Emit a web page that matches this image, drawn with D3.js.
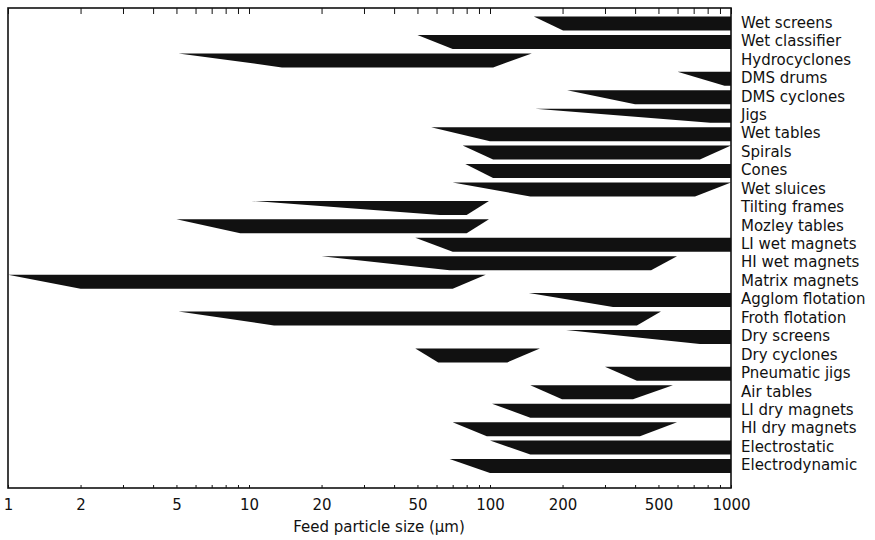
<!doctype html>
<html>
<head>
<meta charset="UTF-8" />
<script src="https://d3js.org/d3.v7.min.js"></script>
<style>
	body { margin: 0; background: #fff; }
	text { font-family: "DejaVu Sans", "Liberation Sans", sans-serif; fill: #111; }
</style>
</head>
<body>
<svg id="chart" width="875" height="540"></svg>
<script type="text/javascript">

// Processes and the size range (um).
// tipStart/tipEnd: where the thin tip begins/ends, fullStart/fullEnd: where the band is full width
const methods = ["Wet screens", "Wet classifier", "Hydrocyclones", "DMS drums", "DMS cyclones", "Jigs",
	"Wet tables", "Spirals", "Cones", "Wet sluices", "Tilting frames", "Mozley tables", "LI wet magnets",
	"HI wet magnets", "Matrix magnets", "Agglom flotation", "Froth flotation", "Dry screens", "Dry cyclones",
	"Pneumatic jigs", "Air tables", "LI dry magnets", "HI dry magnets", "Electrostatic", "Electrodynamic"];
const tipStart  = [152, 50, 5.1, 600, 209, 154, 57, 77, 79, 70, 10.2, 5.0, 49, 20, 1, 145, 5.1, 207, 49, 300, 147, 102, 70, 100, 68];
const fullStart = [201, 70, 13.7, 940, 400, 820, 100, 103, 103, 147, 62, 9.2, 70, 68, 2, 324, 12.7, 743, 61, 407, 199, 147, 97, 147, 100];
const fullEnd   = [1000, 1000, 103, 1000, 1000, 1000, 1000, 743, 1000, 709, 80, 80, 1000, 466, 70, 1000, 407, 1000, 118, 1000, 392, 1000, 419, 1000, 1000];
const tipEnd    = [1000, 1000, 149, 1000, 1000, 1000, 1000, 1000, 1000, 1000, 99, 99, 1000, 597, 96, 1000, 512, 1000, 161, 1000, 574, 1000, 597, 1000, 1000];
const tickLabels = [1, 2, 5, 10, 20, 50, 100, 200, 500, 1000];

const margin = { left: 8, top: 8 };
const width = 723, height = 480;
const barH = 14;

const svg = d3.select("#chart");
const g = svg.append("g").attr("transform", "translate(" + margin.left + "," + margin.top + ")");

const x = d3.scaleLog().domain([1, 1000]).range([0, width]);
const y = d3.scalePoint().domain(methods).range([15.5, 458]);

// all minor tick positions 1..1000
const minor = [];
[1, 10, 100].forEach(function (dec) {
	for (let k = 1; k < 10; k++) minor.push(dec * k);
});
minor.push(1000);

// bands
const line = d3.line();
g.selectAll(".band")
	.data(methods)
	.enter().append("path")
	.attr("class", "band")
	.attr("fill", "#111")
	.attr("d", function (d, i) {
		const yt = y(d) - barH / 2, yb = y(d) + barH / 2;
		return line([
			[x(tipStart[i]), yt], [x(tipEnd[i]), yt],
			[x(fullEnd[i]), yb], [x(fullStart[i]), yb]
		]) + "Z";
	});

// top axis, ticks inside, no labels
g.append("g")
	.call(d3.axisTop(x).tickValues(minor).tickSizeInner(-6).tickSizeOuter(0).tickFormat(""))
	.call(function (s) { s.select(".domain").remove(); s.selectAll("line").attr("stroke", "#111"); });

// bottom axis
const bottom = g.append("g")
	.attr("transform", "translate(0," + height + ")")
	.call(d3.axisBottom(x).tickValues(minor).tickSizeInner(-3).tickSizeOuter(0).tickPadding(11)
		.tickFormat(function (d) { return tickLabels.indexOf(d) >= 0 ? d : ""; }));
bottom.select(".domain").remove();
bottom.selectAll("line").attr("stroke", "#111");
bottom.selectAll("text").attr("font-size", 15).attr("font-family", "DejaVu Sans").attr("fill", "#111");

// frame
g.append("rect")
	.attr("width", width).attr("height", height)
	.attr("fill", "none").attr("stroke", "#111").attr("stroke-width", 1.6);

// process labels
g.selectAll(".lab")
	.data(methods)
	.enter().append("text")
	.attr("class", "lab")
	.attr("x", width + 10)
	.attr("y", function (d) { return y(d) - 1; })
	.attr("dy", "0.35em")
	.attr("font-size", 15)
	.text(function (d) { return d; });

// axis title
g.append("text")
	.attr("x", 371)
	.attr("y", height + 39)
	.attr("dy", "0.35em")
	.attr("text-anchor", "middle")
	.attr("font-size", 15)
	.text("Feed particle size (µm)");

</script>
</body>
</html>
